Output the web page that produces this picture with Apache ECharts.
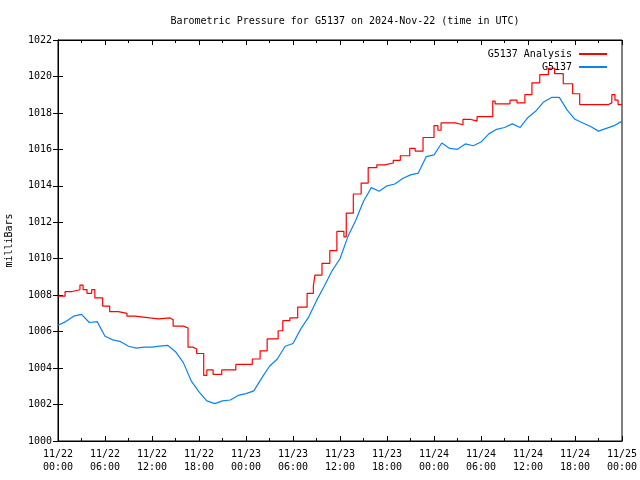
<!DOCTYPE html>
<html>
<head>
<meta charset="utf-8">
<script src="https://cdn.jsdelivr.net/npm/echarts@6/dist/echarts.min.js"></script>
<style>html,body{margin:0;padding:0;background:#fff;}#c{width:640px;height:480px;}</style>
</head>
<body>
<div id="c"></div>
<script>
// Time in hours since 2024-11-22 00:00 UTC
const xTickLabelsDay = ['11/22','11/22','11/22','11/22','11/23','11/23','11/23','11/23','11/24','11/24','11/24','11/24','11/25'];
const xTickLabelsTime = ['00:00','06:00','12:00','18:00','00:00','06:00','12:00','18:00','00:00','06:00','12:00','18:00','00:00'];

// G5137 Analysis (stepped): change times (hours) and values (mb)
const redTimes = [0,0.9,1.8,2.8,3.2,3.7,4.3,4.7,5.7,6.6,7.7,8.8,9.8,11.7,12.8,14.3,14.7,16.0,16.6,17.2,17.7,18.6,19.0,19.8,20.9,22.7,24.8,25.8,26.7,28.1,28.7,29.6,30.6,31.8,32.6,32.8,33.7,34.7,35.6,36.5,36.8,37.7,38.7,39.6,40.7,41.7,42.8,43.7,44.9,45.6,46.6,48.0,48.5,48.9,50.7,51.7,52.6,53.5,55.5,55.8,57.7,58.6,59.6,60.5,61.5,62.6,63.4,64.5,65.7,66.6,70.2,70.7,71.1,71.5,72];
const redValues = [1007.95,1008.2,1008.3,1008.55,1008.3,1008.1,1008.3,1007.85,1007.4,1007.1,1007.0,1006.85,1006.75,1006.7,1006.75,1006.65,1006.3,1006.2,1005.15,1005.05,1004.8,1003.6,1003.9,1003.65,1003.9,1004.2,1004.5,1004.95,1005.6,1006.05,1006.6,1006.75,1007.35,1008.1,1008.5,1009.1,1009.75,1010.45,1011.5,1011.2,1012.5,1013.55,1014.15,1015.0,1015.15,1015.25,1015.4,1015.65,1016.05,1015.9,1016.65,1017.3,1017.05,1017.45,1017.35,1017.65,1017.55,1017.8,1018.65,1018.5,1018.7,1018.55,1019.0,1019.65,1020.1,1020.45,1020.15,1019.6,1019.05,1018.45,1018.55,1019.0,1018.7,1018.45,1018.45];

// G5137 observed, hourly (hour index 0..72)
const blueValues = [1006.35,1006.55,1006.85,1006.95,1006.5,1006.55,1005.75,1005.55,1005.45,1005.2,1005.1,1005.15,1005.15,1005.2,1005.25,1004.9,1004.3,1003.3,1002.7,1002.2,1002.05,1002.2,1002.25,1002.5,1002.6,1002.75,1003.45,1004.1,1004.5,1005.2,1005.35,1006.15,1006.8,1007.7,1008.5,1009.35,1010.0,1011.2,1012.1,1013.15,1013.9,1013.7,1014.0,1014.1,1014.4,1014.6,1014.7,1015.6,1015.7,1016.35,1016.05,1016.0,1016.3,1016.2,1016.4,1016.85,1017.1,1017.2,1017.4,1017.2,1017.75,1018.1,1018.6,1018.85,1018.85,1018.15,1017.65,1017.45,1017.25,1017.0,1017.15,1017.3,1017.55];

const FONT = 'DejaVu Sans Mono';
const chart = echarts.init(document.getElementById('c'));
const tickStyle = {color:'#000', width:1};
chart.setOption({
  animation:false,
  backgroundColor:'#fff',
  title:{text:'Barometric Pressure for G5137 on 2024-Nov-22 (time in UTC)', left:340, top:11, textAlign:'center',
    textStyle:{fontFamily:FONT, fontSize:10, fontWeight:'normal', color:'#000'}},
  legend:[
    {data:['G5137 Analysis'], right:28, top:44, align:'right', itemWidth:28, itemHeight:2, itemGap:0, icon:'rect',
     textStyle:{fontFamily:FONT, fontSize:10, color:'#000', padding:[0,2,0,0]}},
    {data:['G5137'], right:28, top:57, align:'right', itemWidth:28, itemHeight:2, itemGap:0, icon:'rect',
     textStyle:{fontFamily:FONT, fontSize:10, color:'#000', padding:[0,2,0,0]}}
  ],
  grid:{left:58, right:18, top:40, bottom:39, show:true, borderColor:'#000', borderWidth:1, containLabel:false, outerBoundsMode:'none'},
  xAxis:[
    {type:'value', min:0, max:72, interval:6, position:'bottom',
     axisLine:{show:true, lineStyle:tickStyle},
     axisTick:{show:true, inside:true, length:5, lineStyle:tickStyle},
     minorTick:{show:true, splitNumber:2, length:3, lineStyle:tickStyle},
     splitLine:{show:false},
     axisLabel:{margin:7, fontFamily:FONT, fontSize:10, color:'#000', lineHeight:13,
       formatter:function(v){const i=Math.round(v/6); return xTickLabelsDay[i]+'\n'+xTickLabelsTime[i];}}},
    {type:'value', min:0, max:72, interval:6, position:'top',
     axisLine:{show:true, lineStyle:tickStyle},
     axisTick:{show:true, inside:true, length:5, lineStyle:tickStyle},
     minorTick:{show:true, splitNumber:2, length:3, lineStyle:tickStyle},
     splitLine:{show:false}, axisLabel:{show:false}}
  ],
  yAxis:[
    {type:'value', min:1000, max:1022, interval:2, position:'left',
     name:'milliBars', nameLocation:'middle', nameGap:44, nameRotate:90,
     nameTextStyle:{fontFamily:FONT, fontSize:10, color:'#000'},
     axisLine:{show:true, lineStyle:tickStyle},
     axisTick:{show:true, inside:true, length:5, lineStyle:tickStyle},
     splitLine:{show:false},
     axisLabel:{margin:6, fontFamily:FONT, fontSize:10, color:'#000', formatter:function(v){return String(v);}}},
    {type:'value', min:1000, max:1022, interval:2, position:'right',
     axisLine:{show:true, lineStyle:tickStyle},
     axisTick:{show:true, inside:true, length:5, lineStyle:tickStyle},
     splitLine:{show:false}, axisLabel:{show:false}}
  ],
  series:[
    {name:'G5137 Analysis', type:'line', step:'end', xAxisIndex:0, yAxisIndex:0, showSymbol:false, symbol:'none',
     color:'#ff0000', lineStyle:{color:'#ff0000', width:1.2},
     data:redTimes.map((t,i)=>[t, redValues[i]]), z:3},
    {name:'G5137', type:'line', xAxisIndex:0, yAxisIndex:0, showSymbol:false, symbol:'none',
     color:'#0a84f0', lineStyle:{color:'#0a84f0', width:1.2},
     data:blueValues.map((v,i)=>[i, v]), z:2}
  ]
});
</script>
</body>
</html>
